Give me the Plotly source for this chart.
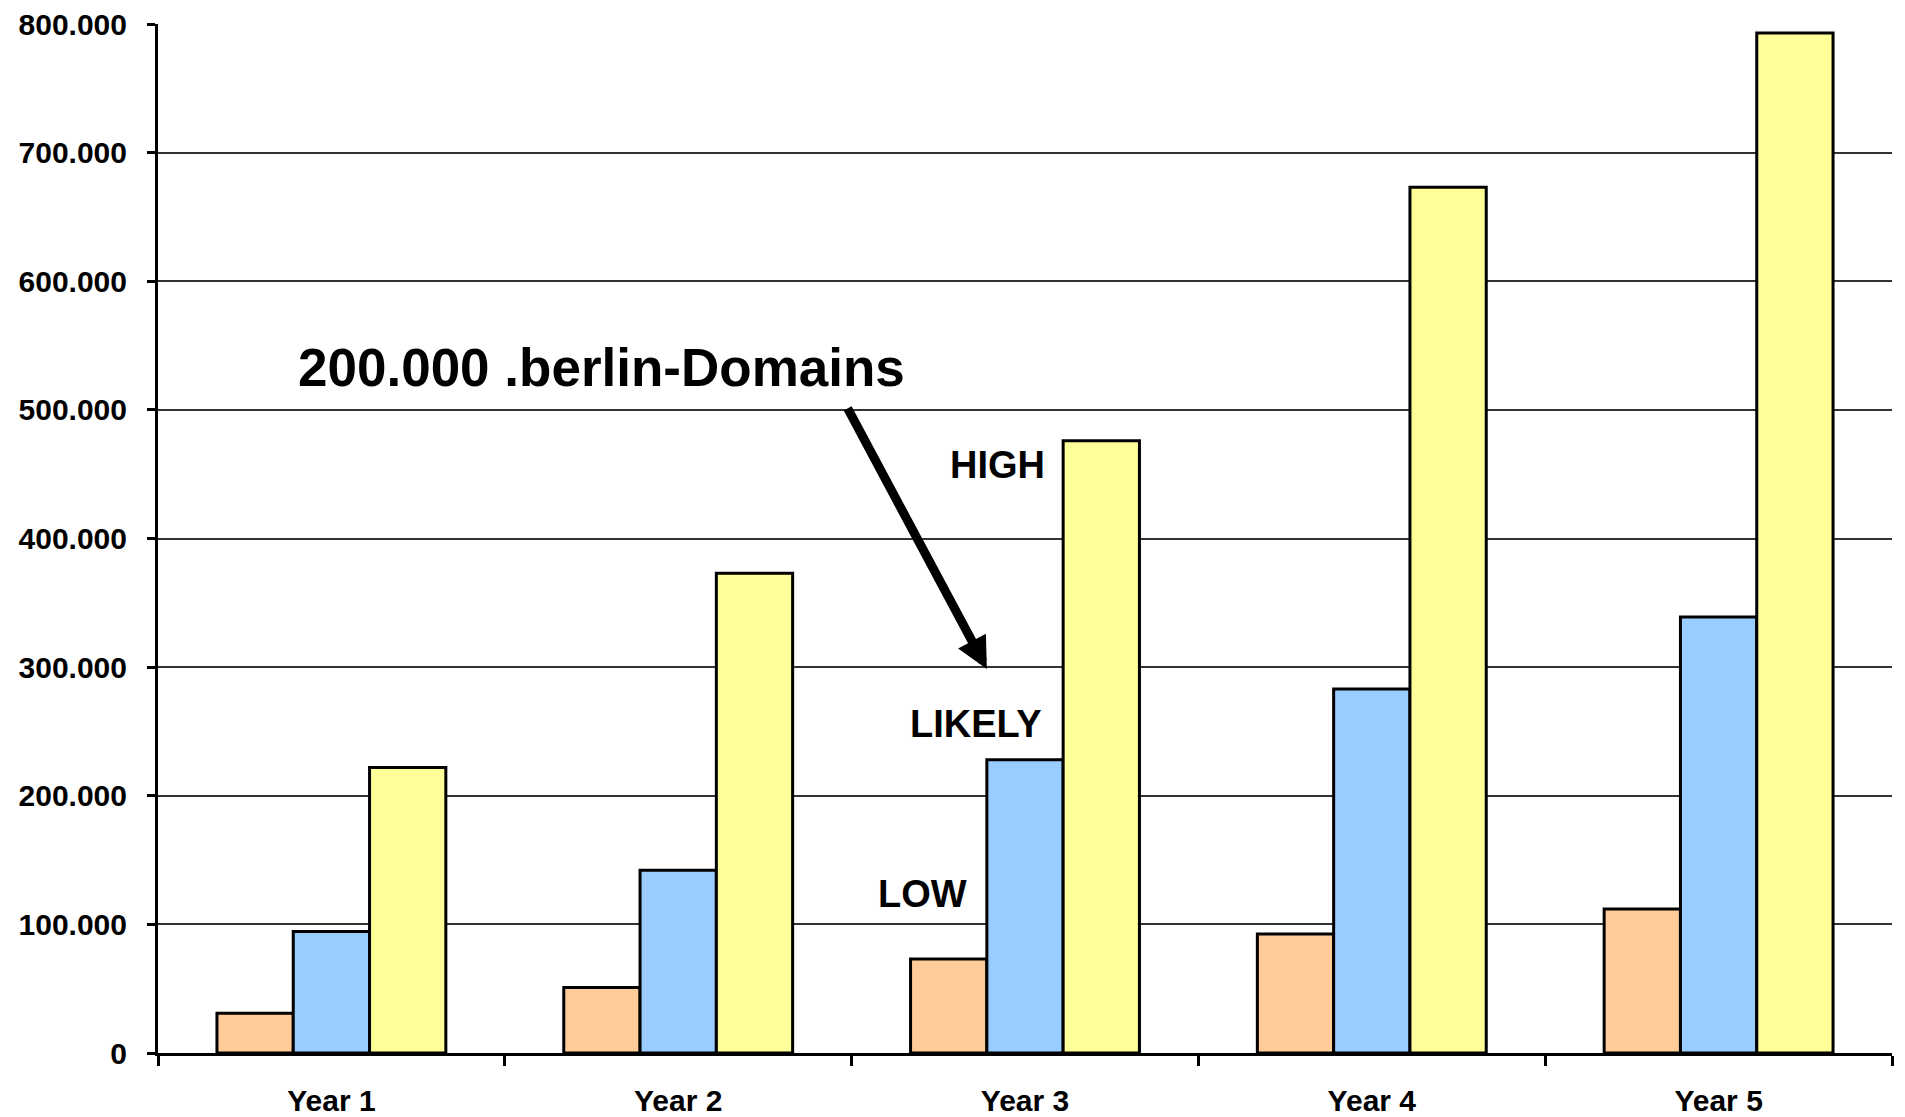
import plotly.graph_objects as go

categories = ["Year 1", "Year 2", "Year 3", "Year 4", "Year 5"]
low = [31000, 51000, 73000, 92500, 112000]
likely = [94500, 142000, 228000, 283000, 339000]
high = [222000, 373000, 476000, 673000, 793000]

y_tickvals = [0, 100000, 200000, 300000, 400000, 500000, 600000, 700000, 800000]
y_ticktext = ["0", "100.000", "200.000", "300.000", "400.000", "500.000", "600.000", "700.000", "800.000"]

series_names = ["LOW", "LIKELY", "HIGH"]
series_colors = ["#FFCC99", "#99CCFF", "#FFFF99"]

FONT = "Liberation Sans, Arial, sans-serif"

fig = go.Figure()
for name, vals, col in zip(series_names, [low, likely, high], series_colors):
    fig.add_trace(go.Bar(
        x=categories, y=vals, name=name,
        marker=dict(color=col, line=dict(color="black", width=3)),
    ))

fig.update_layout(
    width=1905, height=1117,
    margin=dict(l=150, r=21, t=16, b=72),
    paper_bgcolor="white", plot_bgcolor="white",
    barmode="group", bargap=0.34, bargroupgap=0,
    showlegend=False,
    font=dict(family=FONT, color="black"),
)
fig.update_xaxes(
    automargin=False,
    showline=True, linecolor="black", linewidth=3,
    ticks="outside", tickson="boundaries", ticklen=10, tickwidth=3, tickcolor="black",
    tickfont=dict(family=FONT, size=30, color="black", weight="bold"),
    ticklabelstandoff=19, ticklabeloverflow="allow",
    showgrid=False,
)
fig.update_yaxes(
    automargin=False,
    range=[0, 800000],
    tickvals=y_tickvals, ticktext=y_ticktext,
    showline=True, linecolor="black", linewidth=3,
    ticks="outside", ticklen=8, tickwidth=3, tickcolor="black",
    tickfont=dict(family=FONT, size=30, color="black", weight="bold"),
    ticklabelstandoff=14, ticklabeloverflow="allow",
    showgrid=True, gridcolor="#333333", gridwidth=1.5,
    zeroline=False,
)

# Text annotations
fig.add_annotation(xref="paper", yref="y", x=0.0796, y=533000, xanchor="left", yanchor="middle",
                   text="<b>200.000 .berlin-Domains</b>", showarrow=False,
                   font=dict(family=FONT, size=53, color="black"))
for txt, xp, yv in [("HIGH", 0.4844, 457000), ("LIKELY", 0.4717, 256000), ("LOW", 0.4406, 124000)]:
    fig.add_annotation(xref="paper", yref="y", x=xp, y=yv, xanchor="center", yanchor="middle",
                       text="<b>" + txt + "</b>", showarrow=False,
                       font=dict(family=FONT, size=38, color="black"))

# Arrow
fig.add_annotation(xref="paper", yref="y", x=0.478, y=298600, text="",
                   showarrow=True, axref="pixel", ayref="pixel", ax=-140, ay=-262,
                   arrowhead=2, arrowsize=0.7, arrowwidth=9, arrowcolor="black")

fig.write_html("out.html")
